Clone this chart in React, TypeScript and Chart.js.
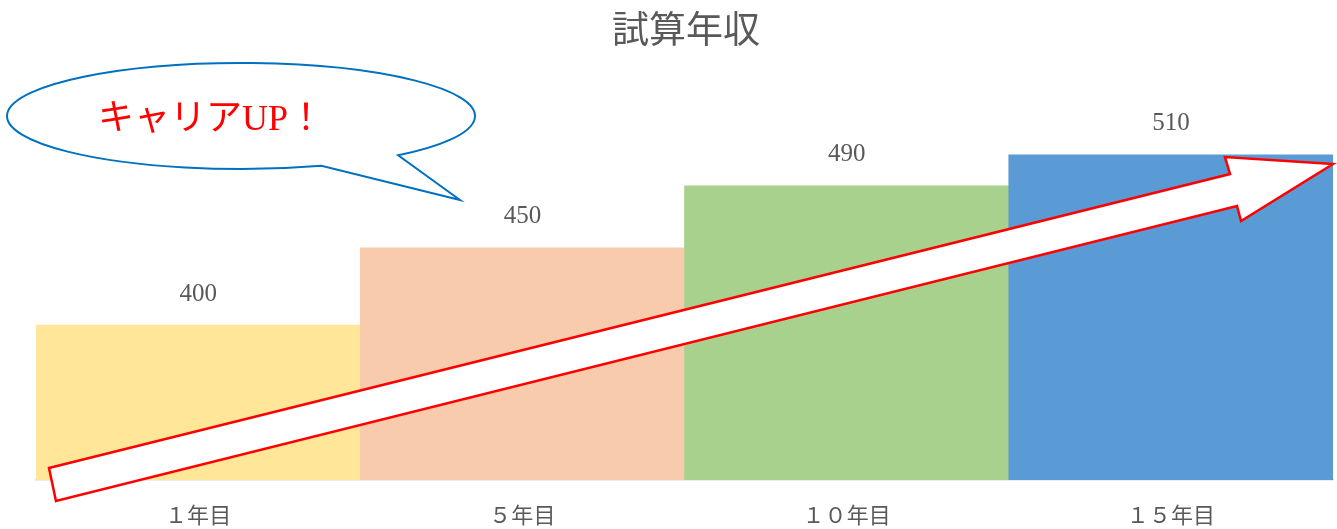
import React, { useEffect, useRef } from "react";
import { Chart, registerables } from "chart.js";

Chart.register(...registerables);

const TITLE = "試算年収";
const CATEGORIES = ["１年目", "５年目", "１０年目", "１５年目"];
const VALUES = [400, 450, 490, 510];
const BAR_COLORS = ["#FFE699", "#F8CBAD", "#A9D18E", "#5B9BD5"];
const Y_MIN = 300;
const Y_MAX = 550;
const CALLOUT_TEXT = "キャリアUP！";

const SERIF = "'Liberation Serif', 'DejaVu Serif', 'Noto Sans CJK JP', serif";
const CJK = "'Noto Sans CJK JP', sans-serif";

// arrow polygon, as fractions of the chart area
const ARROW = [
  [0.010, 0.969],
  [0.9206, 0.2093],
  [0.9167, 0.1654],
  [1.0, 0.1835],
  [0.9291, 0.3308],
  [0.926, 0.292],
  [0.0154, 1.054],
];

const decorPlugin = {
  id: "decor",
  afterDatasetsDraw(chart: any) {
    const { ctx, chartArea } = chart;
    const meta = chart.getDatasetMeta(0);
    ctx.save();
    // value labels
    ctx.fillStyle = "#595959";
    ctx.font = `25px ${SERIF}`;
    ctx.textAlign = "center";
    ctx.textBaseline = "middle";
    meta.data.forEach((bar: any, i: number) => {
      ctx.fillText(String(VALUES[i]), bar.x, bar.y - 31);
    });
    // title
    ctx.font = `37px ${CJK}`;
    ctx.fillStyle = "#595959";
    ctx.fillText(TITLE, 686, 29);

    // arrow
    const W = chartArea.right - chartArea.left;
    const H = chartArea.bottom - chartArea.top;
    ctx.beginPath();
    ARROW.forEach(([fx, fy], i) => {
      const x = chartArea.left + fx * W;
      const y = chartArea.top + fy * H;
      if (i === 0) ctx.moveTo(x, y);
      else ctx.lineTo(x, y);
    });
    ctx.closePath();
    ctx.fillStyle = "#FFFFFF";
    ctx.fill();
    ctx.strokeStyle = "#FF0000";
    ctx.lineWidth = 2.5;
    ctx.lineJoin = "miter";
    ctx.stroke();

    // speech bubble
    const cx = 241, cy = 116, rx = 234, ry = 53;
    const a1 = (47.8 * Math.PI) / 180;
    const a2 = (69.9 * Math.PI) / 180;
    ctx.beginPath();
    ctx.ellipse(cx, cy, rx, ry, 0, a1, a2, true);
    ctx.lineTo(460, 200);
    ctx.closePath();
    ctx.fillStyle = "#FFFFFF";
    ctx.fill();
    ctx.strokeStyle = "#0070C0";
    ctx.lineWidth = 2;
    ctx.stroke();

    ctx.fillStyle = "#FF0000";
    ctx.font = `36px ${SERIF}`;
    ctx.textAlign = "center";
    ctx.textBaseline = "middle";
    ctx.fillText(CALLOUT_TEXT, 211, 121);
    ctx.restore();
  },
};

export default function App() {
  const ref = useRef<HTMLCanvasElement | null>(null);
  useEffect(() => {
    document.body.style.margin = "0";
    const chart = new Chart(ref.current as HTMLCanvasElement, {
      type: "bar",
      data: {
        labels: CATEGORIES,
        datasets: [
          {
            data: VALUES,
            backgroundColor: BAR_COLORS,
            borderWidth: 0,
            barPercentage: 1,
            categoryPercentage: 1,
          },
        ],
      },
      options: {
        animation: false,
        responsive: false,
        maintainAspectRatio: false,
        layout: { padding: { top: 93, left: 36, right: 4, bottom: 0 } },
        plugins: {
          legend: { display: false },
          title: { display: false },
          tooltip: { enabled: false },
        },
        scales: {
          x: {
            afterFit: (scale: any) => {
              scale.height = 49;
            },
            grid: { display: true, drawOnChartArea: false, drawTicks: false, color: "rgba(0,0,0,0)" },
            border: { display: true, color: "#D9D9D9", width: 1.5 },
            ticks: {
              color: "#595959",
              padding: 24,
              font: { size: 22, family: SERIF },
            },
          },
          y: {
            display: false,
            min: Y_MIN,
            max: Y_MAX,
          },
        },
      },
      plugins: [decorPlugin],
    });
    return () => chart.destroy();
  }, []);
  return (
    <div style={{ position: "absolute", left: 0, top: 0, width: 1337, height: 529 }}>
      <canvas ref={ref} width={1337} height={529} style={{ width: 1337, height: 529 }} />
    </div>
  );
}
